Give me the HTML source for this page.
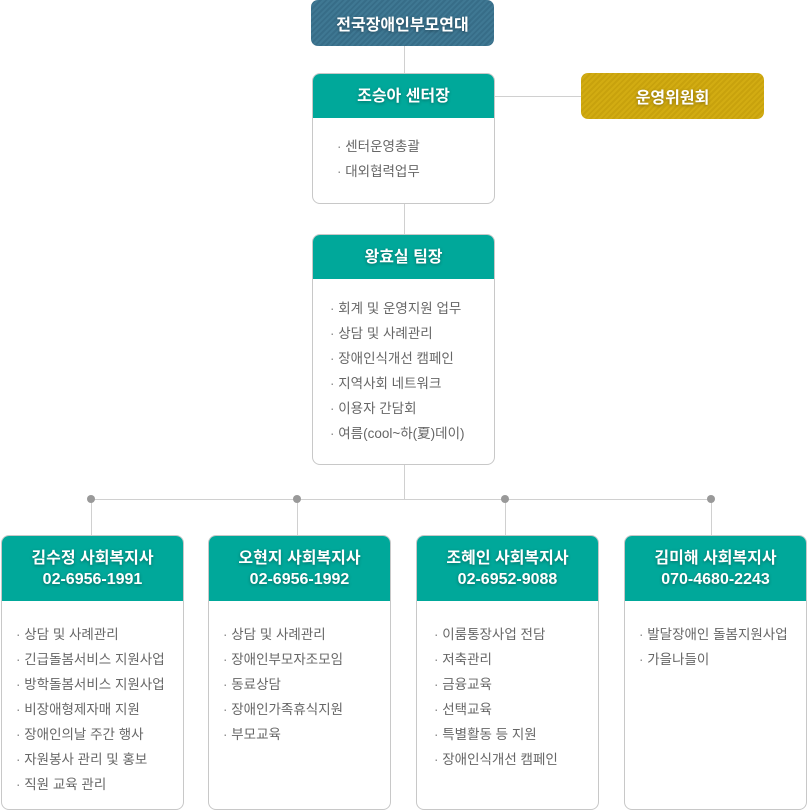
<!DOCTYPE html>
<html><head><meta charset="utf-8"><style>
body{margin:0;width:807px;height:810px;background:#fff;position:relative;font-family:"Liberation Sans","Noto Sans CJK KR",sans-serif;overflow:hidden}
.a{position:absolute}
.box{position:absolute;border:1px solid #c8c8c8;border-radius:8px;background:#fff;overflow:hidden;box-sizing:border-box}
.hd{background:#00a89a;color:#fff;text-align:center;font-size:16px;font-weight:bold;text-shadow:0 1px 3px rgba(0,0,0,.35);display:flex;align-items:center;justify-content:center;flex-direction:column;line-height:21px}
.ls{color:#666;font-size:13.5px;line-height:25px;padding-left:14px}
.ls div:before{content:"· ";color:#888}
.ln{position:absolute;background:#d0d0d0}
.dot{position:absolute;width:8px;height:8px;border-radius:50%;background:#999}
.pill{position:absolute;border-radius:7px;color:#fff;font-weight:bold;font-size:16px;text-align:center;text-shadow:0 1px 3px rgba(0,0,0,.35);display:flex;align-items:center;justify-content:center}
</style></head><body>
<div class="ln" style="left:404px;top:46px;width:1px;height:454px"></div>
<div class="ln" style="left:494px;top:96px;width:88px;height:1px"></div>
<div class="ln" style="left:91px;top:499px;width:620px;height:1px"></div>
<div class="ln" style="left:91px;top:499px;width:1px;height:37px"></div>
<div class="ln" style="left:297px;top:499px;width:1px;height:37px"></div>
<div class="ln" style="left:505px;top:499px;width:1px;height:37px"></div>
<div class="ln" style="left:711px;top:499px;width:1px;height:37px"></div>
<div class="dot" style="left:87px;top:495px"></div>
<div class="dot" style="left:293px;top:495px"></div>
<div class="dot" style="left:501px;top:495px"></div>
<div class="dot" style="left:707px;top:495px"></div>
<div class="pill" style="left:311px;top:0;width:183px;height:46px;background:repeating-linear-gradient(135deg,#3f7893 0 2px,#376d88 2px 4px)">전국장애인부모연대</div>
<div class="pill" style="left:581px;top:73px;width:183px;height:46px;background:repeating-linear-gradient(135deg,#d2ac12 0 2px,#c8a20d 2px 4px)">운영위원회</div>
<div class="box" style="left:312px;top:73px;width:183px;height:131px"><div class="hd" style="height:44px">조승아 센터장</div><div class="ls" style="padding-left:24px;padding-top:16px"><div>센터운영총괄</div><div>대외협력업무</div></div></div>
<div class="box" style="left:312px;top:234px;width:183px;height:231px"><div class="hd" style="height:44px">왕효실 팀장</div><div class="ls" style="padding-left:17px;padding-top:17px"><div>회계 및 운영지원 업무</div><div>상담 및 사례관리</div><div>장애인식개선 캠페인</div><div>지역사회 네트워크</div><div>이용자 간담회</div><div>여름(cool~하(夏)데이)</div></div></div>
<div class="box" style="left:1px;top:535px;width:183px;height:275px"><div class="hd" style="height:65px">김수정 사회복지사<br>02-6956-1991</div><div class="ls" style="padding-top:21px"><div>상담 및 사례관리</div><div>긴급돌봄서비스 지원사업</div><div>방학돌봄서비스 지원사업</div><div>비장애형제자매 지원</div><div>장애인의날 주간 행사</div><div>자원봉사 관리 및 홍보</div><div>직원 교육 관리</div></div></div>
<div class="box" style="left:208px;top:535px;width:183px;height:275px"><div class="hd" style="height:65px">오현지 사회복지사<br>02-6956-1992</div><div class="ls" style="padding-top:21px"><div>상담 및 사례관리</div><div>장애인부모자조모임</div><div>동료상담</div><div>장애인가족휴식지원</div><div>부모교육</div></div></div>
<div class="box" style="left:416px;top:535px;width:183px;height:275px"><div class="hd" style="height:65px">조혜인 사회복지사<br>02-6952-9088</div><div class="ls" style="padding-left:17px;padding-top:21px"><div>이룸통장사업 전담</div><div>저축관리</div><div>금융교육</div><div>선택교육</div><div>특별활동 등 지원</div><div>장애인식개선 캠페인</div></div></div>
<div class="box" style="left:624px;top:535px;width:183px;height:275px"><div class="hd" style="height:65px">김미해 사회복지사<br>070-4680-2243</div><div class="ls" style="padding-left:14px;padding-top:21px"><div>발달장애인 돌봄지원사업</div><div>가을나들이</div></div></div>
</body></html>
